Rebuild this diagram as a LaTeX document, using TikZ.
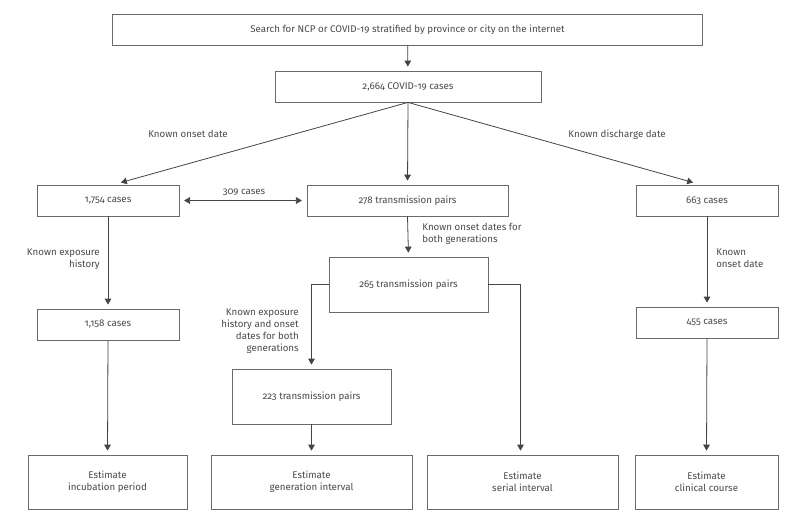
\documentclass[tikz,border=0pt]{standalone}
\usepackage{fontspec}
\setmainfont{Fira Sans}[Numbers=OldStyle]
\usetikzlibrary{arrows.meta,calc}
\definecolor{boxgray}{HTML}{6A6A6A}
\definecolor{linegray}{HTML}{444444}
\definecolor{textgray}{HTML}{4A4A4A}
\begin{document}
\begin{tikzpicture}
		[x=0.75pt,y=-0.75pt,
		font=\fontsize{7.3}{9}\selectfont,text=textgray,
		mybox/.style={rectangle,draw=boxgray,line width=0.6pt,fill=white,inner sep=0pt,align=center},
		myarrow/.style={draw=linegray,line width=0.6pt,-{Triangle[width=5pt,length=4.5pt]},shorten >=3pt},
		mylabel/.style={inner sep=0pt}]
		\useasboundingbox (0,0) rectangle (798,524);
		\node[mybox,name=search,minimum width=442pt,minimum height=23.25pt] at (407.5,29.5) {Search for NCP or COVID-19 stratified by province or city on the internet};
		\node[mybox,name=total,minimum width=199.5pt,minimum height=23.25pt] at (408,86.5) {2,664 COVID-19 cases};
		\node[mybox,name=onset,minimum width=106.5pt,minimum height=23.25pt] at (108,200.5) {1,754 cases};
		\node[mybox,name=pairs,minimum width=150.75pt,minimum height=23.25pt] at (407.5,200.5) {278 transmission pairs};
		\node[mybox,name=discharge,minimum width=106.5pt,minimum height=23.25pt] at (707,200.5) {663 cases};
		\node[mybox,name=both,minimum width=119.25pt,minimum height=41.25pt] at (408.5,284.5) {265 transmission pairs};
		\node[mybox,name=exposure,minimum width=106.5pt,minimum height=23.25pt] at (108,324.5) {1,158 cases};
		\node[mybox,name=course,minimum width=106.5pt,minimum height=23.25pt] at (707,322.5) {455 cases};
		\node[mybox,name=genpairs,minimum width=119.25pt,minimum height=41.25pt] at (311.5,396.5) {223 transmission pairs};
		\node[mybox,name=incubation,minimum width=119.25pt,minimum height=40.5pt] at (107.5,482) {Estimate\\incubation period};
		\node[mybox,name=generation,minimum width=150.75pt,minimum height=40.5pt] at (311.5,482) {Estimate\\generation interval};
		\node[mybox,name=serial,minimum width=143.25pt,minimum height=40.5pt] at (522.5,482) {Estimate\\serial interval};
		\node[mybox,name=clinical,minimum width=107.25pt,minimum height=40.5pt] at (706.5,482) {Estimate\\clinical course};
		\draw[myarrow] (search) -- (total);
		\draw[myarrow] (total.south) -- ($(onset.north)+(9,-1)$);
		\draw[myarrow] (total.south) -- (pairs.north);
		\draw[myarrow] (total.south) -- ($(discharge.north)+(-10,-1)$);
		\draw[myarrow,{Triangle[width=5pt,length=4.5pt]}-{Triangle[width=5pt,length=4.5pt]},shorten <=3.5pt,shorten >=3.5pt] (onset.east) -- (pairs.west);
		\draw[myarrow] (pairs.south) -- (both.north);
		\draw[myarrow] (onset.south) -- (exposure.north);
		\draw[myarrow] (exposure.south) -- (incubation.north);
		\draw[myarrow] (discharge.south) -- (course.north);
		\draw[myarrow] (course.south) -- (clinical.north);
		\draw[myarrow] (both.west) -| (genpairs.north);
		\draw[myarrow] (genpairs.south) -- (generation.north);
		\draw[myarrow] (both.east) -| ($(serial.north)+(-2,0)$);
		\node[mylabel,name=lonset] at (188,134) {Known onset date};
		\node[mylabel,name=ldischarge] at (617,135) {Known discharge date};
		\node[mylabel,name=lcases] at (244,192) {309 cases};
		\node[mylabel,name=lboth,anchor=west,align=left] at (422,233.5) {Known onset dates for\\both generations};
		\node[mylabel,name=lexposure,anchor=east,align=right] at (100,259) {Known exposure\\history};
		\node[mylabel,name=lcourse,anchor=west,align=left] at (716,258.5) {Known\\onset date};
		\node[mylabel,name=lgen,anchor=east,align=right] at (299,331) {Known exposure\\history and onset\\dates for both\\generations};
	\end{tikzpicture}
\end{document}
